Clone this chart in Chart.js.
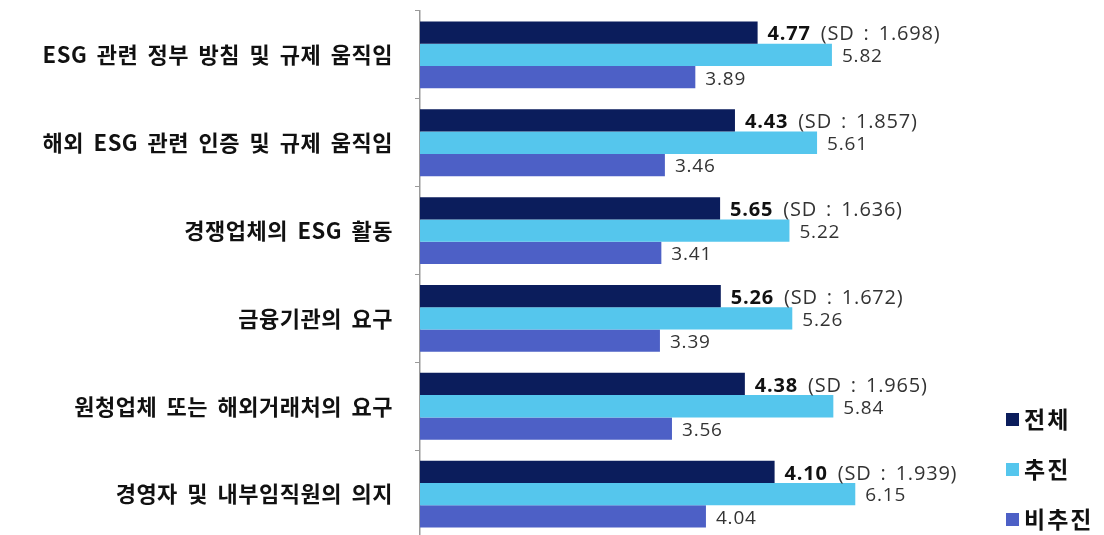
<!DOCTYPE html>
<html>
<head>
<meta charset="utf-8">
<script src="https://cdn.jsdelivr.net/npm/chart.js@4.4.0/dist/chart.umd.min.js"></script>
<style>
  html, body { margin:0; padding:0; background:#fff; overflow:hidden; }
  #wrap { width:1104px; height:540px; }
</style>
</head>
<body>
<div id="wrap"><canvas id="c" width="1104" height="540"></canvas></div>
<script>
/* ==== Data ==== */
const categories = [
  'ESG 관련 정부 방침 및 규제 움직임',
  '해외 ESG 관련 인증 및 규제 움직임',
  '경쟁업체의 ESG 활동',
  '금융기관의 요구',
  '원청업체 또는 해외거래처의 요구',
  '경영자 및 내부임직원의 의지'
];
const seriesNames = ['전체', '추진', '비추진'];
// bar lengths of 전체 as drawn in the picture
const totalBars = [4.77, 4.45, 4.24, 4.25, 4.59, 5.01];
// printed labels of 전체
const totalLabels = ['4.77', '4.43', '5.65', '5.26', '4.38', '4.10'];
const totalSD = ['1.698', '1.857', '1.636', '1.672', '1.965', '1.939'];
const pushValues = [5.82, 5.61, 5.22, 5.26, 5.84, 6.15];
const nonPushValues = [3.89, 3.46, 3.41, 3.39, 3.56, 4.04];

const colors = ['#0b1d5c', '#55c6ed', '#4d60c6'];
const KR = '"Noto Sans CJK KR", "Noto Sans", sans-serif';
const NUM = '"Open Sans", "Noto Sans", sans-serif';

/* ==== Wider spacing for axis labels (like the original font) ==== */
const axisSpacing = {
  id: 'axisSpacing',
  beforeDraw(chart){ chart.ctx.letterSpacing = '0.5px'; chart.ctx.wordSpacing = '4px'; },
  beforeDatasetsDraw(chart){ chart.ctx.letterSpacing = '0px'; chart.ctx.wordSpacing = '0px'; }
};

/* ==== Value labels ==== */
const valueLabels = {
  id: 'valueLabels',
  afterDatasetsDraw(chart){
    const ctx = chart.ctx;
    ctx.save();
    ctx.textBaseline = 'middle';
    ctx.textAlign = 'left';
    ctx.letterSpacing = '0.8px';
    ctx.wordSpacing = '3px';
    chart.data.datasets.forEach((ds, di) => {
      const meta = chart.getDatasetMeta(di);
      meta.data.forEach((bar, i) => {
        const x = bar.x + 10, y = bar.y + 2;
        if(di === 0){
          ctx.font = 'bold 20px ' + NUM;
          ctx.fillStyle = '#111';
          const t = totalLabels[i];
          ctx.fillText(t, x, y);
          const w = ctx.measureText(t).width;
          ctx.font = '20px ' + NUM;
          ctx.fillStyle = '#333';
          ctx.fillText('(SD : ' + totalSD[i] + ')', x + w + 10, y);
        } else {
          ctx.font = '19px ' + NUM;
          ctx.fillStyle = '#333';
          ctx.fillText(ds.data[i].toFixed(2), x, y);
        }
      });
    });
    ctx.restore();
  }
};

/* ==== Legend (bottom right) ==== */
const cornerLegend = {
  id: 'cornerLegend',
  afterDraw(chart){
    const ctx = chart.ctx;
    ctx.save();
    ctx.textBaseline = 'middle';
    ctx.font = 'bold 23px ' + KR;
    ctx.letterSpacing = '2px';
    chart.data.datasets.forEach((ds, i) => {
      const cy = 419 + i * 50;
      ctx.fillStyle = ds.backgroundColor;
      ctx.fillRect(1006, cy - 6, 13, 13);
      ctx.fillStyle = '#111';
      ctx.fillText(ds.label, 1024, cy);
    });
    ctx.restore();
  }
};

new Chart(document.getElementById('c'), {
  type: 'bar',
  data: {
    labels: categories,
    datasets: [
      { label: seriesNames[0], data: totalBars, backgroundColor: colors[0] },
      { label: seriesNames[1], data: pushValues, backgroundColor: colors[1] },
      { label: seriesNames[2], data: nonPushValues, backgroundColor: colors[2] }
    ]
  },
  options: {
    indexAxis: 'y',
    responsive: false,
    animation: false,
    layout: { padding: { top: 11, bottom: 2, right: 47, left: 0 } },
    datasets: { bar: { categoryPercentage: 0.76, barPercentage: 1.0, borderWidth: 0 } },
    plugins: { legend: { display: false }, tooltip: { enabled: false } },
    scales: {
      x: { display: false, min: 0, max: 9 },
      y: {
        afterFit(scale){ scale.width = 420; scale.paddingTop = 0; scale.paddingBottom = 0; },
        grid: { drawOnChartArea: false, tickLength: 5, color: '#9a9a9a', lineWidth: 1 },
        border: { display: true, color: '#9a9a9a', width: 1.5 },
        ticks: { font: { family: KR, size: 22, weight: 'bold' }, color: '#111', padding: 22 }
      }
    }
  },
  plugins: [axisSpacing, valueLabels, cornerLegend]
});
</script>
</body>
</html>
